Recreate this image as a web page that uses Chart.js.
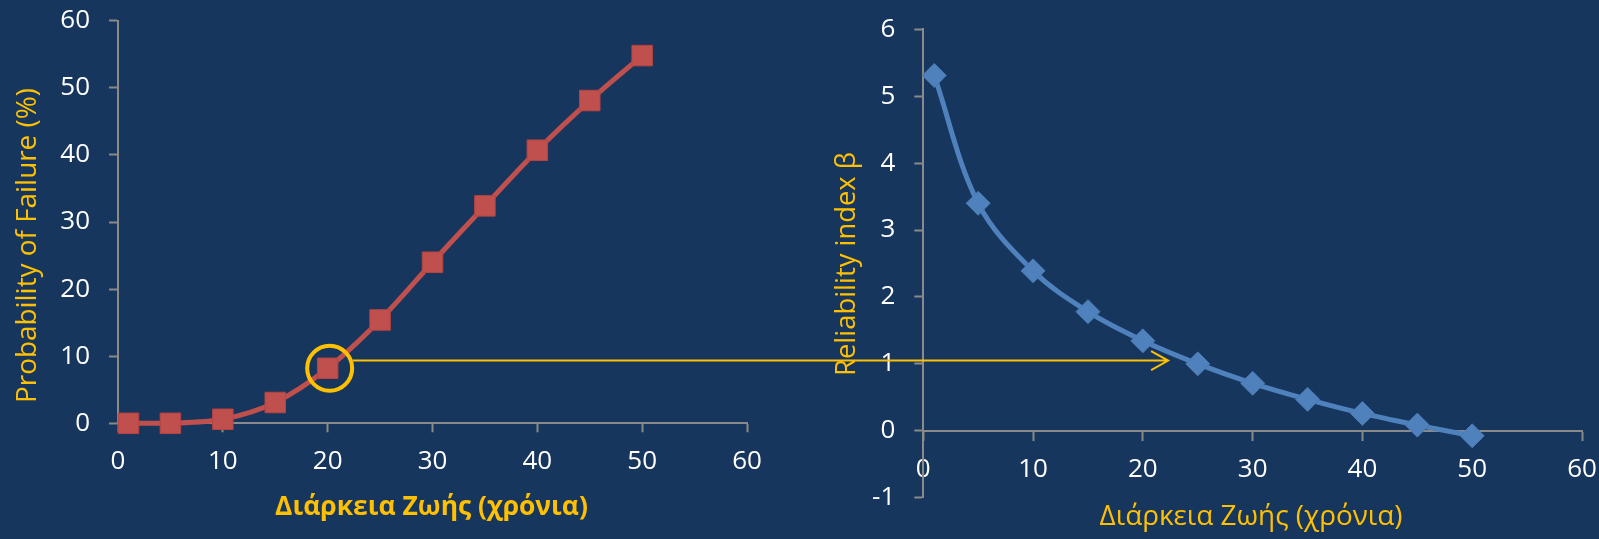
<!DOCTYPE html>
<html>
<head>
<meta charset="utf-8">
<script src="https://cdn.jsdelivr.net/npm/chart.js@4/dist/chart.umd.min.js"></script>
<style>
  html, body { margin: 0; padding: 0; background: #17365D; width: 1599px; height: 539px; overflow: hidden; }
  canvas { position: absolute; top: 0; }
  #pfChart { left: 0; }
  #betaChart { left: 790px; }
  #marks { left: 0; pointer-events: none; }
</style>
</head>
<body>
<canvas id="pfChart" width="790" height="539"></canvas>
<canvas id="betaChart" width="809" height="539"></canvas>
<canvas id="marks" width="1599" height="539"></canvas>
<script>
// Service life in years
const years = [1, 5, 10, 15, 20, 25, 30, 35, 40, 45, 50];
// Probability of failure (%) per year
const failureProb = [0, 0, 0.6, 3.1, 8.2, 15.4, 24.0, 32.4, 40.7, 48.1, 54.8];
// Reliability index beta per year
const reliabilityIdx = [5.31, 3.40, 2.39, 1.78, 1.345, 1.0, 0.71, 0.47, 0.26, 0.085, -0.075];

const yearTicks = [0, 10, 20, 30, 40, 50, 60];
const pfTicks = [0, 10, 20, 30, 40, 50, 60];
const betaTicks = [-1, 0, 1, 2, 3, 4, 5, 6];

const lifeTitle = 'Διάρκεια Ζωής (χρόνια)';
const pfTitle = 'Probability of Failure (%)';
const betaTitle = 'Reliability index β';

// highlighted point and the level the arrow carries across
const markedYear = 20;
const markedProb = 8.2;
const arrowBeta = 1.05;
const arrowEndYear = 22.3;

const FONT = '"Open Sans", "Noto Sans", sans-serif';
const GOLD = '#FFC000';
const AXIS = '#8A8A8A';

function toPoints(xs, ys) { return xs.map((x, i) => ({ x: x, y: ys[i] })); }

// draws axis titles, font sized so each title spans the given length
const axisTitles = {
  id: 'axisTitles',
  afterDraw(chart, args, opts) {
    const ctx = chart.ctx;
    (opts.items || []).forEach(t => {
      const weight = t.bold ? 'bold ' : '';
      ctx.save();
      ctx.font = weight + '100px ' + FONT;
      const w100 = ctx.measureText(t.text).width;
      const size = 100 * t.length / w100;
      ctx.font = weight + size.toFixed(2) + 'px ' + FONT;
      ctx.fillStyle = GOLD;
      ctx.textAlign = 'center';
      ctx.textBaseline = 'alphabetic';
      ctx.translate(t.x, t.y);
      if (t.vertical) ctx.rotate(-Math.PI / 2);
      ctx.fillText(t.text, 0, 0);
      ctx.restore();
    });
  }
};

// fixed box size for a scale; the plot edges are set by the layout padding alone
function fixBox(dim, value) {
  return s => {
    s[dim] = value;
    s.paddingTop = 0; s.paddingBottom = 0; s.paddingLeft = 0; s.paddingRight = 0;
  };
}

function axisStyle(extra) {
  return Object.assign({
    type: 'linear',
    border: { display: true, color: AXIS, width: 2 },
    grid: { display: true, drawOnChartArea: false, drawTicks: true, tickLength: 9, tickColor: AXIS, tickWidth: 2, color: AXIS },
  }, extra);
}

function tickFont() { return { family: FONT, size: 26 }; }

const pfChart = new Chart(document.getElementById('pfChart'), {
  type: 'scatter',
  data: {
    datasets: [{
      data: toPoints(years, failureProb),
      showLine: true,
      borderColor: '#C0504D',
      borderWidth: 5,
      tension: 0.3,
      pointStyle: 'rect',
      pointRadius: 14.5,
      pointBackgroundColor: '#C0504D',
      pointBorderColor: '#B8433F',
      pointBorderWidth: 1,
      clip: false
    }]
  },
  options: {
    responsive: false,
    animation: false,
    events: [],
    layout: { padding: { left: 0, top: 20.7, right: 43, bottom: 0 } },
    plugins: {
      legend: { display: false },
      tooltip: { enabled: false },
      axisTitles: {
        items: [
          { text: pfTitle, x: 36, y: 245.5, length: 315, vertical: true },
          { text: lifeTitle, x: 431.5, y: 515, length: 313, bold: true }
        ]
      }
    },
    scales: {
      x: axisStyle({
        position: 'bottom', min: 0, max: 60,
        afterBuildTicks: s => { s.ticks = yearTicks.map(v => ({ value: v })); },
        ticks: { color: '#FFFFFF', font: tickFont(), padding: 13.8, maxRotation: 0 },
        afterFit: fixBox('height', 539 - 423.3)
      }),
      y: axisStyle({
        position: 'left', min: 0, max: 60,
        afterBuildTicks: s => { s.ticks = pfTicks.map(v => ({ value: v })); },
        ticks: { color: '#FFFFFF', font: tickFont(), padding: 19 },
        afterFit: fixBox('width', 118)
      })
    }
  },
  plugins: [axisTitles]
});

const betaChart = new Chart(document.getElementById('betaChart'), {
  type: 'scatter',
  data: {
    datasets: [{
      data: toPoints(years, reliabilityIdx),
      showLine: true,
      borderColor: '#4F81BD',
      borderWidth: 5,
      tension: 0.35,
      pointStyle: 'rectRot',
      pointRadius: 12,
      pointBackgroundColor: '#4F81BD',
      pointBorderColor: '#4A7AB4',
      pointBorderWidth: 1,
      clip: false
    }]
  },
  options: {
    responsive: false,
    animation: false,
    events: [],
    layout: { padding: { left: 0, top: 29.3, right: 17, bottom: 539 - 497.7 } },
    plugins: {
      legend: { display: false },
      tooltip: { enabled: false },
      axisTitles: {
        items: [
          { text: betaTitle, x: 855 - 790, y: 264, length: 224, vertical: true },
          { text: lifeTitle, x: 1251 - 790, y: 525, length: 303 }
        ]
      }
    },
    scales: {
      x: axisStyle({
        position: { y: 0 }, min: 0, max: 60,
        afterBuildTicks: s => { s.ticks = yearTicks.map(v => ({ value: v })); },
        ticks: { color: '#FFFFFF', font: tickFont(), padding: 13.8, maxRotation: 0 },
        afterFit: fixBox('height', 0)
      }),
      y: axisStyle({
        position: 'left', min: -1, max: 6,
        afterBuildTicks: s => { s.ticks = betaTicks.map(v => ({ value: v })); },
        ticks: { color: '#FFFFFF', font: tickFont(), padding: 19 },
        afterFit: fixBox('width', 133.3)
      })
    }
  },
  plugins: [axisTitles]
});

// gold ring around the marked point and the arrow carrying it across to the beta curve
(function drawMarks() {
  const ctx = document.getElementById('marks').getContext('2d');
  const rightOffset = 790;
  const cx = pfChart.scales.x.getPixelForValue(markedYear) + 2;
  const cy = pfChart.scales.y.getPixelForValue(markedProb);
  const r = 22.5;
  ctx.strokeStyle = GOLD;
  ctx.lineWidth = 4;
  ctx.beginPath();
  ctx.arc(cx, cy, r, 0, Math.PI * 2);
  ctx.stroke();

  const ay = betaChart.scales.y.getPixelForValue(arrowBeta);
  const dy = ay - cy;
  const startX = cx + Math.sqrt(Math.max(r * r - dy * dy, 0)) + 2;
  const endX = rightOffset + betaChart.scales.x.getPixelForValue(arrowEndYear);
  ctx.lineWidth = 2;
  ctx.beginPath();
  ctx.moveTo(startX, ay);
  ctx.lineTo(endX, ay);
  ctx.moveTo(endX - 17, ay - 9.5);
  ctx.lineTo(endX, ay);
  ctx.lineTo(endX - 17, ay + 9.5);
  ctx.stroke();
})();
</script>
</body>
</html>
